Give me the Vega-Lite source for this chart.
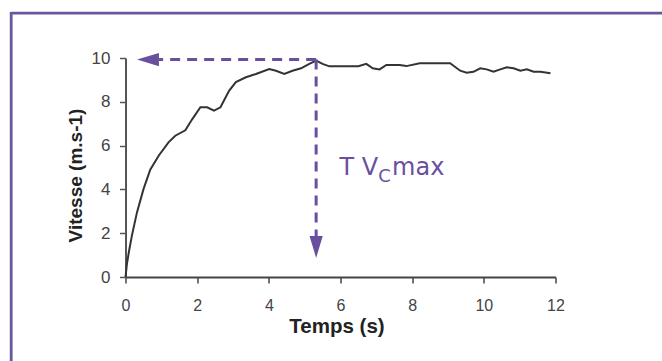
{
  "$schema": "https://vega.github.io/schema/vega-lite/v6.json",
  "width": 430,
  "height": 219,
  "autosize": "none",
  "padding": {"left": 125.5, "top": 58, "right": 106.5, "bottom": 84},
  "background": "white",
  "config": {"view": {"stroke": null}, "font": "Liberation Sans"},
  "datasets": {
    "speed": [
      {"t": 0, "v": 0}, {"t": 0.04, "v": 0.6}, {"t": 0.1, "v": 1.2}, {"t": 0.18, "v": 1.9},
      {"t": 0.32, "v": 2.95}, {"t": 0.5, "v": 4.0}, {"t": 0.69, "v": 4.9}, {"t": 0.93, "v": 5.55},
      {"t": 1.2, "v": 6.15}, {"t": 1.39, "v": 6.45}, {"t": 1.67, "v": 6.7}, {"t": 1.86, "v": 7.2},
      {"t": 2.09, "v": 7.75}, {"t": 2.28, "v": 7.75}, {"t": 2.47, "v": 7.6}, {"t": 2.65, "v": 7.75},
      {"t": 2.89, "v": 8.5}, {"t": 3.08, "v": 8.9}, {"t": 3.36, "v": 9.12}, {"t": 3.64, "v": 9.27},
      {"t": 4.01, "v": 9.5}, {"t": 4.2, "v": 9.42}, {"t": 4.43, "v": 9.27}, {"t": 4.66, "v": 9.42},
      {"t": 4.9, "v": 9.53}, {"t": 5.13, "v": 9.73}, {"t": 5.32, "v": 9.88}, {"t": 5.5, "v": 9.73},
      {"t": 5.69, "v": 9.62}, {"t": 6.5, "v": 9.62}, {"t": 6.72, "v": 9.73}, {"t": 6.9, "v": 9.53},
      {"t": 7.09, "v": 9.48}, {"t": 7.28, "v": 9.68}, {"t": 7.65, "v": 9.68}, {"t": 7.84, "v": 9.63},
      {"t": 8.21, "v": 9.76}, {"t": 9.06, "v": 9.76}, {"t": 9.34, "v": 9.42}, {"t": 9.52, "v": 9.33},
      {"t": 9.71, "v": 9.37}, {"t": 9.9, "v": 9.53}, {"t": 10.08, "v": 9.48}, {"t": 10.27, "v": 9.37},
      {"t": 10.46, "v": 9.48}, {"t": 10.64, "v": 9.58}, {"t": 10.83, "v": 9.53}, {"t": 11.02, "v": 9.42},
      {"t": 11.2, "v": 9.48}, {"t": 11.39, "v": 9.37}, {"t": 11.58, "v": 9.37}, {"t": 11.86, "v": 9.3}
    ],
    "frame": [
      {"t": -3.19, "t2": 16, "v": 12.05, "v2": 12.05},
      {"t": -3.19, "t2": -3.19, "v": 12.1, "v2": -5}
    ],
    "dashes": [
      {"t": 5.32, "t2": 0.93, "v": 9.93, "v2": 9.93},
      {"t": 5.32, "t2": 5.32, "v": 9.93, "v2": 1.87}
    ],
    "tipLeft": [{"t": 0.32, "v": 9.93}],
    "tipDown": [{"t": 5.32, "v": 0.87}],
    "labels": [
      {"t": 5.97, "v": 4.66, "label": "T V"},
      {"t": 7.44, "v": 4.66, "label": "max"}
    ],
    "sub": [{"t": 7.05, "v": 4.34, "label": "C"}]
  },
  "encoding": {
    "x": {
      "field": "t", "type": "quantitative",
      "scale": {"domain": [0, 12], "nice": false, "zero": false},
      "axis": {
        "values": [0, 2, 4, 6, 8, 10, 12],
        "grid": false,
        "domainColor": "#444", "domainWidth": 2,
        "tickColor": "#444", "tickWidth": 1.5, "tickSize": 6,
        "labelFont": "Liberation Sans", "labelFontSize": 16, "labelColor": "#444",
        "labelPadding": 14, "labelFlush": false, "labelOverlap": false,
        "title": "Temps (s)",
        "titleFont": "Liberation Sans", "titleFontSize": 20.5, "titleFontWeight": "bold",
        "titleColor": "#222", "titleX": 211, "titleY": 55, "titleBaseline": "alphabetic"
      }
    },
    "y": {
      "field": "v", "type": "quantitative",
      "scale": {"domain": [0, 10], "nice": false, "zero": false},
      "axis": {
        "values": [0, 2, 4, 6, 8, 10],
        "grid": false,
        "domainColor": "#555", "domainWidth": 2,
        "tickColor": "#555", "tickWidth": 1.5, "tickSize": 6,
        "labelFont": "Liberation Sans", "labelFontSize": 17, "labelColor": "#444",
        "labelPadding": 9.5, "labelOverlap": false,
        "title": "Vitesse (m.s-1)",
        "titleFont": "Liberation Sans", "titleFontSize": 19, "titleFontWeight": "bold",
        "titleColor": "#222", "titleX": -50, "titleY": 117, "titleBaseline": "middle",
        "titleAngle": -90, "titleAlign": "center"
      }
    }
  },
  "layer": [
    {
      "data": {"name": "frame"},
      "mark": {"type": "rule", "color": "#6a559f", "strokeWidth": 2.8, "clip": false},
      "encoding": {"x2": {"field": "t2"}, "y2": {"field": "v2"}}
    },
    {
      "data": {"name": "speed"},
      "mark": {"type": "line", "color": "#333333", "strokeWidth": 2},
      "encoding": {}
    },
    {
      "data": {"name": "dashes"},
      "mark": {"type": "rule", "color": "#6a4f9f", "strokeWidth": 3, "strokeDash": [10, 7]},
      "encoding": {"x2": {"field": "t2"}, "y2": {"field": "v2"}}
    },
    {
      "data": {"name": "tipLeft"},
      "mark": {"type": "point", "shape": "M0,0L2,-0.6L2,0.6Z", "filled": true, "color": "#6a4f9f", "opacity": 1, "size": 484, "strokeWidth": 0}
    },
    {
      "data": {"name": "tipDown"},
      "mark": {"type": "point", "shape": "M0,0L-0.6,-2L0.6,-2Z", "filled": true, "color": "#6a4f9f", "opacity": 1, "size": 484, "strokeWidth": 0}
    },
    {
      "data": {"name": "labels"},
      "mark": {"type": "text", "align": "left", "baseline": "alphabetic", "font": "DejaVu Sans", "fontSize": 24, "color": "#6a4f9f"},
      "encoding": {"text": {"field": "label"}}
    },
    {
      "data": {"name": "sub"},
      "mark": {"type": "text", "align": "left", "baseline": "alphabetic", "font": "DejaVu Sans", "fontSize": 18, "color": "#6a4f9f"},
      "encoding": {"text": {"field": "label"}}
    }
  ]
}
